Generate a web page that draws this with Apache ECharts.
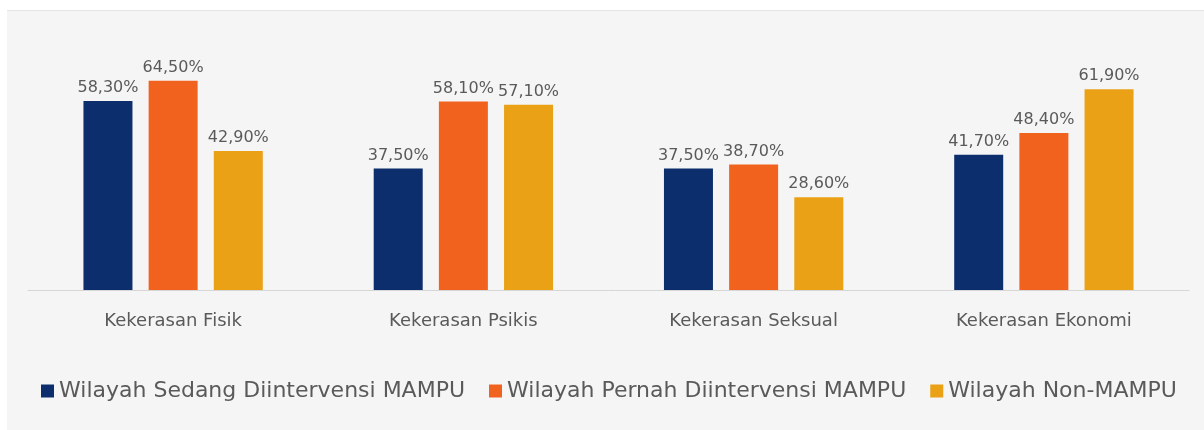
<!DOCTYPE html>
<html>
<head>
<meta charset="utf-8">
<script src="https://cdn.jsdelivr.net/npm/echarts@6/dist/echarts.min.js"></script>
<style>
  html, body { margin: 0; padding: 0; background: #ffffff; }
  #panel {
    position: absolute; left: 7px; top: 10px; width: 1197px; height: 420px;
    background: #f5f5f5; border-top: 1px solid #e4e4e4;
  }
  #chart { position: absolute; left: 0; top: 0; width: 1204px; height: 430px; }
</style>
</head>
<body>
<div id="panel"></div>
<div id="chart"></div>
<script>
// Jenis kekerasan per kategori wilayah (persen)
const categories = ['Kekerasan Fisik', 'Kekerasan Psikis', 'Kekerasan Seksual', 'Kekerasan Ekonomi'];
const seriesNames = ['Wilayah Sedang Diintervensi MAMPU', 'Wilayah Pernah Diintervensi MAMPU', 'Wilayah Non-MAMPU'];
const sedangValues = [58.3, 37.5, 37.5, 41.7];
const pernahValues = [64.5, 58.1, 38.7, 48.4];
const nonValues = [42.9, 57.1, 28.6, 61.9];
const colors = ['#0c2e6c', '#f2621f', '#eaa116'];

const font = '"DejaVu Sans", "Open Sans", sans-serif';
const fmt = p => p.value.toFixed(2).replace('.', ',') + '%';

function barSeries(name, data, color) {
  return {
    name, type: 'bar', data,
    barWidth: 49, barGap: '33%',
    itemStyle: { color },
    label: {
      show: true, position: 'top', distance: 5,
      formatter: fmt, color: '#5a5a5a', fontSize: 16, fontFamily: font
    }
  };
}

const chart = echarts.init(document.getElementById('chart'), null, { renderer: 'canvas' });
chart.setOption({
  backgroundColor: 'transparent',
  animation: false,
  grid: { left: 28, right: 15, top: 63, bottom: 140 },
  legend: {
    left: 36, top: 375,
    icon: 'rect', itemWidth: 13, itemHeight: 13, itemGap: 24,
    textStyle: { color: '#5a5a5a', fontSize: 22, fontFamily: font },
    data: seriesNames
  },
  xAxis: {
    type: 'category', data: categories,
    axisLine: { lineStyle: { color: '#d6d6d6', width: 1 } },
    axisTick: { show: false },
    axisLabel: { color: '#5a5a5a', fontSize: 18, fontFamily: font, margin: 22 }
  },
  yAxis: {
    type: 'value', min: 0, max: 70, show: false,
    splitLine: { show: false }
  },
  series: [
    barSeries(seriesNames[0], sedangValues, colors[0]),
    barSeries(seriesNames[1], pernahValues, colors[1]),
    barSeries(seriesNames[2], nonValues, colors[2])
  ]
});
</script>
</body>
</html>
